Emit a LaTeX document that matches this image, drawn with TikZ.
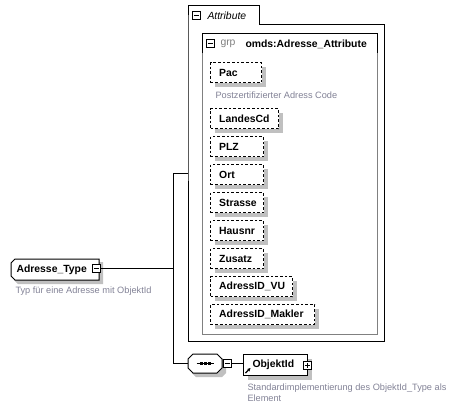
\documentclass[tikz,border=0pt]{standalone}
\usepackage{fontspec}
\setmainfont{Liberation Sans}
\usetikzlibrary{shadows,calc,arrows.meta}
\definecolor{shgrey}{RGB}{192,192,192}
\definecolor{descgrey}{RGB}{130,130,150}
\definecolor{boxgrey}{RGB}{128,128,128}
\begin{document}
\begin{tikzpicture}[x=0.75pt,y=-0.75pt,line width=0.75pt,
  bold/.style={font=\fontsize{7.8pt}{9pt}\selectfont\bfseries, inner sep=0pt},
  desc/.style={font=\fontsize{6.9pt}{8.6pt}\selectfont, text=descgrey, inner sep=0pt, anchor=west, align=left},
  elem/.style={draw, dash pattern=on 2pt off 1.5pt, fill=white, anchor=north west,
    minimum height=15pt, inner xsep=6.5pt, inner ysep=0pt, align=left,
    font=\fontsize{7.8pt}{9pt}\selectfont\bfseries,
    general shadow={fill=shgrey, draw=none, shadow xshift=3pt, shadow yshift=-3pt}},
  minusbox/.style={draw, fill=white, minimum size=6.5pt, inner sep=0pt,
    path picture={\draw ([xshift=1.3pt]path picture bounding box.west) -- ([xshift=-1.3pt]path picture bounding box.east);}},
  plusbox/.style={minusbox,
    path picture={\draw ([xshift=1.3pt]path picture bounding box.west) -- ([xshift=-1.3pt]path picture bounding box.east);
      \draw ([yshift=-1.3pt]path picture bounding box.north) -- ([yshift=1.3pt]path picture bounding box.south);}}
]
\useasboundingbox (0,0) rectangle (465,408);

% ---- Adresse_Type
\fill[shgrey] (18,262) -- (103,262) -- (103,284) -- (18,284) -- (14,280) -- (14,266) -- cycle;
\draw[fill=white] (15,259) -- (99,259) -- (99,280) -- (15,280) -- (11,276) -- (11,263) -- cycle;
\node[bold, anchor=west] (adr) at (16,269.5) {Adresse\_Type};
\node[minusbox] (adrmin) at (96.5,268.5) {};
\node[desc] (adrdesc) at (15,291) {Typ für eine Adresse mit ObjektId};

% ---- connectors
\coordinate (fork) at (173,268.5);
\coordinate (attrL) at (188,173);
\coordinate (seqL) at (188,363.5);
\draw (adrmin.east) -- (fork);
\draw (fork) |- (attrL);
\draw (fork) |- (seqL);

% ---- Attribute box
\draw[fill=white] (188,24) -- (188,5) -- (259,5) -- (259,24) -- (384,24) -- (384,341) -- (188,341) -- cycle;
\node[minusbox] (attrmin) at (196.5,15.5) {};
\node[anchor=west, inner sep=0pt, font=\fontsize{7.8pt}{9pt}\selectfont\itshape] (attrlbl) at (207,16) {Attribute};

% ---- grp box
\draw[boxgrey] (202,33) rectangle (377,334);
\draw (202,53) -- (202,33) -- (377,33) -- (377,53);
\node[minusbox] (grpmin) at (210.5,43.5) {};
\node[anchor=west, inner sep=0pt, font=\fontsize{7.8pt}{9pt}\selectfont, text=boxgrey] (grplbl) at (220,44) {grp};
\node[bold, anchor=west] (grpname) at (245,44) {omds:Adresse\_Attribute};

% ---- elements
\node[elem, text width=25.25pt] (pac) at (210,62) {Pac};
\node[desc] (pacdesc) at (215,95) {Postzertifizierter Adress Code};
\node[elem, text width=38pt] (landes) at (210,108) {LandesCd};
\node[elem, text width=26.75pt] (plz) at (210,136) {PLZ};
\node[elem, text width=26.75pt] (ort) at (210,164) {Ort};
\node[elem, text width=26.75pt] (str) at (210,192) {Strasse};
\node[elem, text width=26.75pt] (haus) at (210,220) {Hausnr};
\node[elem, text width=26.75pt] (zus) at (210,248) {Zusatz};
\node[elem, text width=48.5pt] (vu) at (210,276) {AdressID\_VU};
\node[elem, text width=65pt] (mak) at (210,304) {AdressID\_Makler};

% ---- sequence
\fill[shgrey] (196,358) -- (222,358) -- (226,362) -- (226,373) -- (222,377) -- (196,377) -- (192,373) -- (192,362) -- cycle;
\draw[fill=white] (193,354) -- (217,354) -- (222,359) -- (222,368) -- (217,373) -- (193,373) -- (188,368) -- (188,359) -- cycle;
\node[inner sep=0pt, minimum width=12pt, minimum height=10pt] (seq) at (205,363.5) {};
\draw (seq.west) -- (seq.east);
\foreach \xx in {201,205,209} \fill (\xx-1.5,362) rectangle (\xx+1.5,365);
\node[minusbox] (seqmin) at (227.5,363.5) {};

% ---- ObjektId
\node[draw, fill=white, anchor=north west, minimum width=48pt, minimum height=15.75pt, inner sep=0pt,
  general shadow={fill=shgrey, draw=none, shadow xshift=3pt, shadow yshift=-3pt}] (obj) at (243,354) {};
\node[bold, anchor=west] (objlbl) at (252,364.5) {ObjektId};
\node[plusbox] (objplus) at (307.5,365.5) {};
\draw (seqmin.east) -- (obj.west |- seqmin.east);
\draw[-{Stealth[length=2.5pt,width=2.5pt]}, line width=0.9pt] (245.5,373) -- (250.5,368);
\node[desc] (objdesc) at (247,392.5) {Standardimplementierung des ObjektId\_Type als\\Element};
\end{tikzpicture}
\end{document}
